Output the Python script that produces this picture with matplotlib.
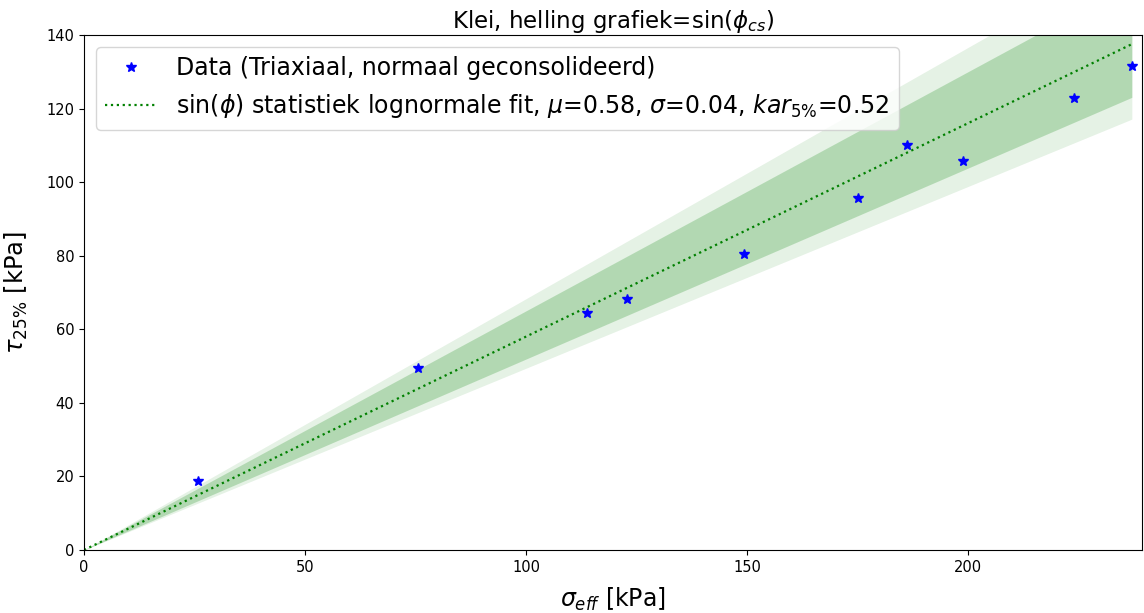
import numpy as np
import matplotlib
matplotlib.use("Agg")
import matplotlib.pyplot as plt

# Data
sigma_eff = [25.8, 75.6, 113.8, 122.9, 149.3, 175.1, 186.2, 198.9, 224.0, 237.1]
tau_25 = [18.7, 49.5, 64.4, 68.2, 80.4, 95.7, 110.0, 105.7, 122.8, 131.5]

slope_mean = 0.58
slope_inner = [0.519, 0.65]   # 5% .. 95%
slope_outer = [0.494, 0.683]  # outer band

title = "Klei, helling grafiek=sin($\\phi_{cs}$)"
data_label = "Data (Triaxiaal, normaal geconsolideerd)"
fit_label = "sin($\\phi$) statistiek lognormale fit, $\\mu$=0.58, $\\sigma$=0.04, $kar_{5\\%}$=0.52"

fig = plt.figure(figsize=(11.44, 6.13), dpi=100)
ax = fig.add_axes([84/1144, 1 - 550/613, (1142-84)/1144, (550-35)/613])

xs = np.array([0.0, max(sigma_eff)])
ax.fill_between(xs, slope_outer[0]*xs, slope_outer[1]*xs, color="green", alpha=0.1, linewidth=0)
ax.fill_between(xs, slope_inner[0]*xs, slope_inner[1]*xs, color="green", alpha=0.22, linewidth=0)
ax.plot(sigma_eff, tau_25, "b*", markersize=7, label=data_label)
ax.plot(xs, slope_mean*xs, ":", color="green", linewidth=1.6, label=fit_label)

ax.set_xlim(0, 239.4)
ax.set_ylim(0, 140)
ax.set_yticks(range(0, 141, 20))
ax.set_xticks(range(0, 201, 50))
ax.tick_params(labelsize=10.5)
ax.set_title(title, fontsize=16.5, pad=4)
ax.set_xlabel("$\\sigma_{eff}$ [kPa]", fontsize=17, labelpad=8)
ax.set_ylabel("$\\tau_{25\\%}$ [kPa]", fontsize=17.5, labelpad=12)
ax.legend(loc="upper left", fontsize=17, handlelength=2.2)

fig.savefig("out.png", dpi=100)
